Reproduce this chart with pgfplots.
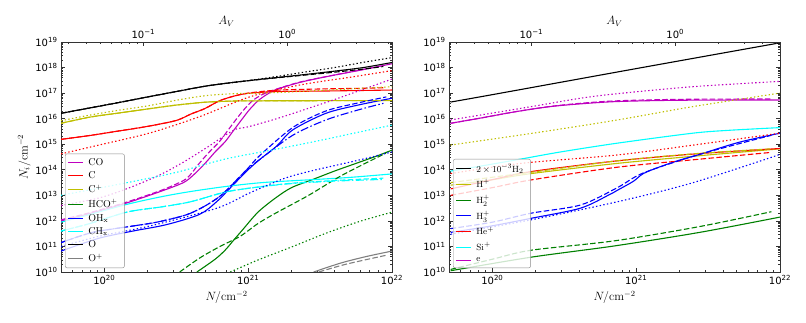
\documentclass[border=0pt]{standalone}
\usepackage[no-math]{fontspec}
\setmainfont{DejaVu Sans}
\usepackage{pgfplots}
\pgfplotsset{compat=1.18}
\definecolor{mm}{rgb}{0.75,0,0.75}
\definecolor{myy}{rgb}{0.75,0.75,0}
\definecolor{mg}{rgb}{0,0.5,0}
\definecolor{mc}{rgb}{0,1,1}
\definecolor{mgray}{rgb}{0.5,0.5,0.5}
\tikzset{
  ds/.style={dash pattern=on 5.5pt off 2.4pt},
  dt/.style={dash pattern=on 1.4pt off 2.3pt},
  dd/.style={dash pattern=on 8pt off 2.4pt on 1.5pt off 2.4pt},
}
\pgfplotsset{
  scale only axis, width=331pt, height=230pt,
  tick align=inside,
  major tick length=4pt, minor tick length=2pt,
  every tick/.style={black!80, line width=0.6pt},
  axis line style={black!80, line width=0.8pt},
  tick label style={font=\fontsize{10}{12}\selectfont},
  label style={font=\fontsize{12}{14}\selectfont},
  legend cell align=left,
  legend image code/.code={\draw[mark repeat=2,mark phase=2,#1] plot coordinates {(0pt,0pt) (7.5pt,0pt) (15pt,0pt)};},
  legend image post style={line width=1.1pt, sharp plot, solid},
  every axis plot/.append style={line width=1.1pt},
}
\begin{document}
\begin{tikzpicture}
\useasboundingbox (-61pt,-50pt) rectangle (745pt,272pt);
% ================= LEFT PANEL =================
\begin{axis}[at={(0pt,0pt)}, anchor=south west,
    xmode=log, ymode=log, xmin=5e19, xmax=1e22, ymin=1e10, ymax=1e19,
    xtick={1e20,1e21,1e22},
    xticklabels={10\textsuperscript{20},10\textsuperscript{21},10\textsuperscript{22}},
    ytick={1e10,1e11,1e12,1e13,1e14,1e15,1e16,1e17,1e18,1e19},
    yticklabels={10\textsuperscript{10},10\textsuperscript{11},10\textsuperscript{12},10\textsuperscript{13},10\textsuperscript{14},10\textsuperscript{15},10\textsuperscript{16},10\textsuperscript{17},10\textsuperscript{18},10\textsuperscript{19}},
    minor xtick={6e19,7e19,8e19,9e19,2e20,3e20,4e20,5e20,6e20,7e20,8e20,9e20,2e21,3e21,4e21,5e21,6e21,7e21,8e21,9e21},
    minor ytick={2e10,3e10,4e10,5e10,6e10,7e10,8e10,9e10,2e11,3e11,4e11,5e11,6e11,7e11,8e11,9e11,2e12,3e12,4e12,5e12,6e12,7e12,8e12,9e12,2e13,3e13,4e13,5e13,6e13,7e13,8e13,9e13,2e14,3e14,4e14,5e14,6e14,7e14,8e14,9e14,2e15,3e15,4e15,5e15,6e15,7e15,8e15,9e15,2e16,3e16,4e16,5e16,6e16,7e16,8e16,9e16,2e17,3e17,4e17,5e17,6e17,7e17,8e17,9e17,2e18,3e18,4e18,5e18,6e18,7e18,8e18,9e18},
    xtick pos=left, ytick pos=both, yticklabel pos=left,
    xlabel={$N/\mathrm{cm}^{-2}$}, ylabel={$N_i/\mathrm{cm}^{-2}$},
    ylabel style={yshift=-2pt},
    legend style={anchor=south west, at={(0.012,0.017)}, font=\fontsize{10}{10}\selectfont,
      draw=black!45, rounded corners=2pt, fill=white, fill opacity=0.8, text opacity=1,
      inner sep=2.5pt, row sep=0.9pt, nodes={inner xsep=4.5pt}},
    no markers]
\addplot[mm, smooth] coordinates {(5e19,1.0e12) (7.94e19,1.95e12) (1.41e20,4.9e12) (2.51e20,1.48e13) (3.55e20,3.16e13) (4.17e20,6.3e13) (5.01e20,1.78e14) (5.89e20,5.0e14) (6.92e20,1.26e15) (7.94e20,3.55e15) (9.12e20,1.0e16) (1.02e21,2.24e16) (1.17e21,5.0e16) (1.35e21,8.9e16) (1.58e21,1.41e17) (2.29e21,2.63e17) (3.47e21,4.37e17) (6.03e21,7.94e17) (1e22,1.41e18)};
\addlegendentry{$\mathrm{CO}$}
\addplot[red, smooth] coordinates {(5e19,1.55e15) (7.94e19,2.2e15) (1.26e20,3.3e15) (2e20,5.0e15) (3.16e20,8.5e15) (3.98e20,1.5e16) (5.01e20,2.5e16) (6.31e20,5.0e16) (7.94e20,7.6e16) (1e21,9.8e16) (1.58e21,1.15e17) (3.16e21,1.2e17) (1e22,1.32e17)};
\addlegendentry{$\mathrm{C}$}
\addplot[myy, smooth] coordinates {(5e19,6.6e15) (7.94e19,1.15e16) (1.26e20,1.66e16) (2e20,2.4e16) (3.16e20,3.4e16) (5.01e20,4.4e16) (7.94e20,4.9e16) (1.26e21,5.0e16) (1e22,5.1e16)};
\addlegendentry{$\mathrm{C}^+$}
\addplot[mg, smooth] coordinates {(4.4e20,1e10) (5.89e20,3.16e10) (6.92e20,7.2e10) (7.94e20,1.78e11) (9.12e20,4.4e11) (1.17e21,2.2e12) (1.55e21,7.9e12) (2.0e21,2.0e13) (2.82e21,4.2e13) (3.98e21,8.9e13) (5.62e21,1.78e14) (7.94e21,3.55e14) (1e22,5.9e14)};
\addlegendentry{$\mathrm{HCO}^+$}
\addplot[blue, smooth] coordinates {(5e19,6.6e10) (9.2e19,2.1e11) (1.58e20,4.0e11) (2.69e20,7.1e11) (4.57e20,1.78e12) (6.03e20,5.6e12) (7.94e20,2.7e13) (9.77e20,8.9e13) (1.2e21,2.5e14) (1.58e21,8.5e14) (2.04e21,3.63e15) (3.47e21,1.62e16) (5.89e21,3.47e16) (1e22,6.3e16)};
\addlegendentry{$\mathrm{OH}_{\mathrm{x}}$}
\addplot[mc, smooth] coordinates {(5e19,8.9e11) (7.94e19,1.78e12) (1.45e20,4.5e12) (2.51e20,8.9e12) (3.98e20,1.41e13) (7.08e20,2.24e13) (1.26e21,3.16e13) (2.51e21,3.98e13) (5.01e21,5.0e13) (1e22,6.9e13)};
\addlegendentry{$\mathrm{CH}_{\mathrm{x}}$}
\addplot[black, smooth] coordinates {(5e19,1.62e16) (7.94e19,2.63e16) (1.26e20,4.27e16) (2e20,7.08e16) (3.16e20,1.15e17) (5.01e20,1.86e17) (7.94e20,2.63e17) (1.26e21,3.55e17) (2.24e21,5.01e17) (3.98e21,7.24e17) (6.31e21,1.0e18) (1e22,1.58e18)};
\addlegendentry{$\mathrm{O}$}
\addplot[mgray, smooth] coordinates {(2.85e21,1e10) (4.4e21,2.24e10) (6.58e21,4.0e10) (1e22,6.6e10)};
\addlegendentry{$\mathrm{O}^+$}
\addplot[mm, ds, smooth, forget plot] coordinates {(5e19,1.1e12) (7.94e19,2.1e12) (1.41e20,5.3e12) (2.51e20,1.6e13) (3.55e20,3.8e13) (3.98e20,6.6e13) (4.57e20,1.78e14) (5.37e20,5.0e14) (6.31e20,1.26e15) (7.24e20,3.55e15) (8.32e20,1.0e16) (9.33e20,2.24e16) (1.07e21,5.0e16) (1.26e21,8.9e16) (1.58e21,1.45e17) (2.29e21,2.7e17) (3.47e21,4.4e17) (6.03e21,8.0e17) (8.71e21,1.2e18)};
\addplot[red, ds, smooth, forget plot] coordinates {(5e19,1.55e15) (7.94e19,2.2e15) (1.26e20,3.3e15) (2e20,5.0e15) (3.16e20,8.5e15) (3.98e20,1.5e16) (5.01e20,2.5e16) (6.31e20,5.0e16) (7.94e20,7.6e16) (1e21,1.0e17) (1.58e21,1.3e17) (3.16e21,1.45e17) (6.31e21,1.55e17) (8.71e21,1.62e17)};
\addplot[myy, ds, smooth, forget plot] coordinates {(5e19,6.6e15) (7.94e19,1.15e16) (1.26e20,1.66e16) (2e20,2.4e16) (3.16e20,3.4e16) (5.01e20,4.4e16) (7.94e20,4.9e16) (1.26e21,5.0e16) (8.71e21,5.1e16)};
\addplot[mg, ds, smooth, forget plot] coordinates {(3.34e20,1e10) (4.61e20,3.55e10) (6.37e20,1e11) (8.8e20,2.5e11) (1.17e21,7.9e11) (1.55e21,2.0e12) (2.63e21,1.0e13) (4.54e21,6.3e13) (9.08e21,4.5e14)};
\addplot[blue, ds, smooth, forget plot] coordinates {(5e19,1.41e11) (8.3e19,3.55e11) (1.58e20,6.3e11) (2.4e20,9.3e11) (3.98e20,2.0e12) (6.31e20,8.9e12) (9.55e20,8.9e13) (1.2e21,3.55e14) (2.04e21,4.5e15) (3.47e21,2.0e16) (5.89e21,4.2e16) (9.12e21,7.1e16)};
\addplot[mc, ds, smooth, forget plot] coordinates {(5e19,4.0e11) (7.94e19,7.9e11) (1.45e20,2.24e12) (2.51e20,3.55e12) (3.98e20,5.6e12) (7.08e20,1.38e13) (1.26e21,2.24e13) (2.04e21,3.0e13) (3.98e21,3.8e13) (8.71e21,4.7e13)};
\addplot[black, ds, smooth, forget plot] coordinates {(5e19,1.62e16) (7.94e19,2.63e16) (1.26e20,4.27e16) (2e20,7.08e16) (3.16e20,1.15e17) (5.01e20,1.86e17) (7.94e20,2.63e17) (1.26e21,3.5e17) (2.24e21,4.8e17) (3.98e21,6.6e17) (6.31e21,8.7e17) (8.71e21,1.1e18)};
\addplot[mgray, ds, smooth, forget plot] coordinates {(3.1e21,1e10) (4.76e21,2.0e10) (9.08e21,4.5e10)};
\addplot[blue, dd, smooth, forget plot] coordinates {(5e19,1.41e11) (8.3e19,3.55e11) (1.58e20,6.3e11) (2.4e20,9.3e11) (3.98e20,2.0e12) (6.31e20,8.9e12) (9.55e20,8.9e13) (1.2e21,2.5e14) (2.04e21,2.24e15) (3.47e21,8.9e15) (5.89e21,2.24e16) (8.71e21,4.0e16)};
\addplot[mc, dd, smooth, forget plot] coordinates {(5e19,4.0e11) (7.94e19,7.9e11) (1.45e20,2.24e12) (2.51e20,3.55e12) (3.98e20,5.6e12) (7.08e20,1.38e13) (1.26e21,2.2e13) (2.04e21,2.9e13) (3.98e21,3.6e13) (8.71e21,4.2e13)};
\addplot[mm, dt, smooth, forget plot] coordinates {(5e19,4.0e12) (9.2e19,7.9e12) (1.5e20,2.0e13) (2.43e20,6.3e13) (3.55e20,2.0e14) (5.25e20,7.9e14) (6.92e20,2.24e15) (8.32e20,3.98e15) (1e21,4.8e15) (1.58e21,1.0e16) (2.51e21,2.34e16) (3.98e21,5.6e16) (6.31e21,1.41e17) (1e22,3.55e17)};
\addplot[red, dt, smooth, forget plot] coordinates {(5e19,4.2e14) (9.2e19,9.3e14) (2.07e20,2.75e15) (4.6e20,1.2e16) (1.03e21,7.2e16) (2.31e21,2.1e17) (5.16e21,4.2e17) (1e22,7.6e17)};
\addplot[myy, dt, smooth, forget plot] coordinates {(5e19,8.3e15) (7.94e19,1.38e16) (1.26e20,2.14e16) (2e20,3.16e16) (3.16e20,5.25e16) (5.01e20,7.9e16) (7.94e20,9.5e16) (1.26e21,1.0e17) (2.24e21,1.15e17) (3.98e21,1.35e17) (6.31e21,1.55e17) (1e22,1.78e17)};
\addplot[mg, dt, smooth, forget plot] coordinates {(7.5e20,1e10) (1.17e21,2.95e10) (2.03e21,9.8e10) (3.45e21,3.24e11) (5.87e21,9.3e11) (1e22,2.2e12)};
\addplot[blue, dt, smooth, forget plot] coordinates {(5e19,1e11) (9.2e19,2.5e11) (2.07e20,6.3e11) (6.07e20,3.16e12) (1.03e21,1.26e13) (1.76e21,4.47e13) (2.72e21,8.9e13) (5.89e21,2.4e14) (1e22,5.0e14)};
\addplot[mc, dt, smooth, forget plot] coordinates {(5e19,1e13) (1.45e20,3.16e13) (3.16e20,7.9e13) (6.92e20,2.63e14) (1.55e21,6.3e14) (3.16e21,1.41e15) (5.62e21,2.82e15) (1e22,5.6e15)};
\addplot[black, dt, smooth, forget plot] coordinates {(5e19,1.62e16) (2e20,7.08e16) (5.01e20,1.86e17) (1e21,3.1e17) (1.58e21,4.47e17) (2.51e21,6.76e17) (3.98e21,1.0e18) (6.31e21,1.6e18) (1e22,2.45e18)};
\end{axis}
\begin{axis}[at={(0pt,0pt)}, anchor=south west,
    xmode=log, xmin=0.026738, xmax=5.3476, ymin=0, ymax=1,
    hide y axis, axis x line*=top,
    xtick={0.1,1}, xticklabels={10\textsuperscript{−1},10\textsuperscript{0}},
    minor xtick={0.03,0.04,0.05,0.06,0.07,0.08,0.09,0.2,0.3,0.4,0.5,0.6,0.7,0.8,0.9,2,3,4,5},
    xlabel={$A_V$}, xlabel style={yshift=-4pt}]
\end{axis}
% ================= RIGHT PANEL =================
\begin{axis}[at={(388pt,0pt)}, anchor=south west,
    xmode=log, ymode=log, xmin=5e19, xmax=1e22, ymin=1e10, ymax=1e19,
    xtick={1e20,1e21,1e22},
    xticklabels={10\textsuperscript{20},10\textsuperscript{21},10\textsuperscript{22}},
    ytick={1e10,1e11,1e12,1e13,1e14,1e15,1e16,1e17,1e18,1e19},
    yticklabels={10\textsuperscript{10},10\textsuperscript{11},10\textsuperscript{12},10\textsuperscript{13},10\textsuperscript{14},10\textsuperscript{15},10\textsuperscript{16},10\textsuperscript{17},10\textsuperscript{18},10\textsuperscript{19}},
    minor xtick={6e19,7e19,8e19,9e19,2e20,3e20,4e20,5e20,6e20,7e20,8e20,9e20,2e21,3e21,4e21,5e21,6e21,7e21,8e21,9e21},
    minor ytick={2e10,3e10,4e10,5e10,6e10,7e10,8e10,9e10,2e11,3e11,4e11,5e11,6e11,7e11,8e11,9e11,2e12,3e12,4e12,5e12,6e12,7e12,8e12,9e12,2e13,3e13,4e13,5e13,6e13,7e13,8e13,9e13,2e14,3e14,4e14,5e14,6e14,7e14,8e14,9e14,2e15,3e15,4e15,5e15,6e15,7e15,8e15,9e15,2e16,3e16,4e16,5e16,6e16,7e16,8e16,9e16,2e17,3e17,4e17,5e17,6e17,7e17,8e17,9e17,2e18,3e18,4e18,5e18,6e18,7e18,8e18,9e18},
    xtick pos=left, ytick pos=both, yticklabel pos=left,
    xlabel={$N/\mathrm{cm}^{-2}$},
    legend style={anchor=south west, at={(0.012,0.017)}, font=\fontsize{9.5}{10}\selectfont,
      draw=black!45, rounded corners=2pt, fill=white, fill opacity=0.8, text opacity=1,
      inner sep=2.5pt, row sep=2pt, nodes={inner xsep=4.5pt}},
    no markers]
\addplot[black, smooth] coordinates {(5.13e19,4.47e16) (1e20,8.7e16) (1e21,9.1e17) (1e22,9.3e18)};
\addlegendentry{$2\times10^{-3}\mathrm{H}_2$}
\addplot[myy, smooth] coordinates {(5.13e19,2.5e13) (9.8e19,4.0e13) (1.86e20,7.1e13) (7.4e20,1.78e14) (2.76e21,3.55e14) (1e22,6.6e14)};
\addlegendentry{$\mathrm{H}^+$}
\addplot[mg, smooth] coordinates {(5.13e19,1.12e10) (1.86e20,3.8e10) (7.08e20,1.05e11) (2.76e21,3.55e11) (1e22,1.41e12)};
\addlegendentry{$\mathrm{H}_2^+$}
\addplot[blue, smooth] coordinates {(5.13e19,3.55e11) (9.8e19,6.3e11) (1.86e20,1.26e12) (4.11e20,3.16e12) (6.62e20,1.12e13) (7.4e20,1.58e13) (9.53e20,3.5e13) (1.12e21,7.1e13) (1.47e21,1.32e14) (2.01e21,2.4e14) (2.76e21,4.0e14) (5.21e21,1.2e15) (1e22,2.7e15)};
\addlegendentry{$\mathrm{H}_3^+$}
\addplot[red, smooth] coordinates {(5.13e19,1.78e13) (9.8e19,4.0e13) (1.86e20,8.5e13) (7.4e20,2.24e14) (2.76e21,4.3e14) (1e22,6.8e14)};
\addlegendentry{$\mathrm{He}^+$}
\addplot[mc, smooth] coordinates {(5.13e19,8.9e13) (8.4e19,1.41e14) (1.58e20,2.63e14) (2.99e20,5.0e14) (7.4e20,1.1e15) (2.47e21,2.7e15) (4.4e21,3.5e15) (1e22,4.47e15)};
\addlegendentry{$\mathrm{Si}^+$}
\addplot[mm, smooth] coordinates {(5.13e19,6.6e15) (8.4e19,1.07e16) (1.44e20,1.86e16) (2.51e20,2.95e16) (4.11e20,3.8e16) (7.4e20,4.68e16) (2e21,5.25e16) (1e22,5.4e16)};
\addlegendentry{$\mathrm{e}$}
\addplot[mm, ds, smooth, forget plot] coordinates {(5.13e19,6.6e15) (8.4e19,1.07e16) (1.44e20,1.86e16) (2.51e20,3.0e16) (4.11e20,4.0e16) (7.4e20,5.0e16) (2e21,5.7e16) (8.71e21,5.9e16)};
\addplot[myy, ds, smooth, forget plot] coordinates {(5.13e19,3.16e13) (1.86e20,8.0e13) (7.4e20,2.24e14) (2.76e21,4.4e14) (8.71e21,6.6e14)};
\addplot[red, ds, smooth, forget plot] coordinates {(5.13e19,1.0e13) (1e20,2.0e13) (1.86e20,4.0e13) (7.4e20,1.26e14) (2.76e21,2.6e14) (8.71e21,4.8e14)};
\addplot[blue, ds, smooth, forget plot] coordinates {(5.13e19,5.0e11) (1e20,8.9e11) (1.86e20,2.0e12) (4.11e20,4.2e12) (7.4e20,2.0e13) (1.12e21,7.5e13) (2.76e21,4.0e14) (8.71e21,2.24e15)};
\addplot[mg, ds, smooth, forget plot] coordinates {(5.13e19,1.26e10) (1e20,3.16e10) (1.86e20,7.1e10) (7.08e20,1.66e11) (2.76e21,6.0e11) (8.71e21,2.29e12)};
\addplot[mm, dt, smooth, forget plot] coordinates {(5.13e19,8.9e15) (1.86e20,2.95e16) (4.1e20,6.3e16) (7.4e20,9.5e16) (2.47e21,1.78e17) (1e22,2.88e17)};
\addplot[myy, dt, smooth, forget plot] coordinates {(5.13e19,9.3e14) (2e20,2.8e15) (7.4e20,8.9e15) (2.47e21,2.95e16) (1e22,1e17)};
\addplot[red, dt, smooth, forget plot] coordinates {(5.13e19,7.1e13) (1.58e20,1.78e14) (7.4e20,3.8e14) (2.76e21,1.0e15) (1e22,2.7e15)};
\addplot[blue, dt, smooth, forget plot] coordinates {(5.13e19,3.0e11) (1.86e20,1.1e12) (7.4e20,5.6e12) (2.47e21,3.1e13) (1e22,4.0e14)};
\end{axis}
\begin{axis}[at={(388pt,0pt)}, anchor=south west,
    xmode=log, xmin=0.026738, xmax=5.3476, ymin=0, ymax=1,
    hide y axis, axis x line*=top,
    xtick={0.1,1}, xticklabels={10\textsuperscript{−1},10\textsuperscript{0}},
    minor xtick={0.03,0.04,0.05,0.06,0.07,0.08,0.09,0.2,0.3,0.4,0.5,0.6,0.7,0.8,0.9,2,3,4,5},
    xlabel={$A_V$}, xlabel style={yshift=-4pt}]
\end{axis}
\end{tikzpicture}
\end{document}
